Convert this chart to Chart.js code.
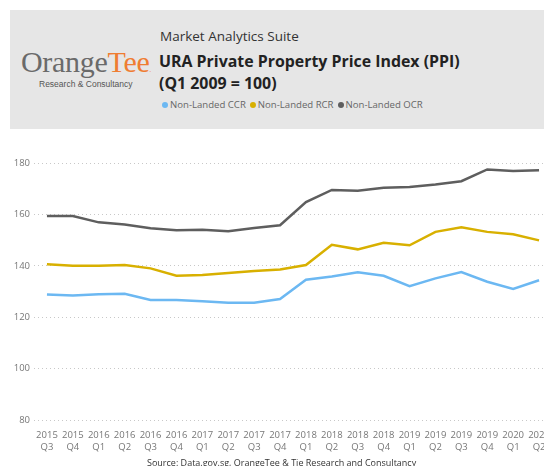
<!DOCTYPE html>
<html>
<head>
<meta charset="utf-8">
<script src="https://cdn.jsdelivr.net/npm/chart.js@4.4.0/dist/chart.umd.min.js"></script>
<style>
  html, body { margin: 0; padding: 0; width: 544px; height: 466px; overflow: hidden; background: #fff; font-family: "Open Sans", sans-serif; }
  #header { position: absolute; left: 10px; top: 10px; width: 540px; height: 119px; background: #e6e6e6; }
  #logo { position: absolute; left: 11px; top: 37px; font-family: "Liberation Serif", serif; font-size: 30px; color: #6a6a6a; line-height: 1; letter-spacing: -0.3px; }
  #logo span { color: #ef7d32; }
  #logo small { font-size: 6px; }
  #logoSub { position: absolute; left: 29px; top: 69px; font-family: "Liberation Sans", Arial, sans-serif; font-size: 8.5px; color: #555; }
  #suite { position: absolute; left: 150px; top: 17px; font-size: 13.5px; color: #333; }
  #title { position: absolute; left: 149px; top: 40px; font-size: 15.9px; font-weight: 700; color: #222; line-height: 22px; }
  #legend { position: absolute; left: 152px; top: 88px; font-size: 9.6px; color: #666; white-space: nowrap; }
  #legend i { display: inline-block; width: 6px; height: 6px; border-radius: 50%; margin-right: 2px; vertical-align: 0px; }
  #legend b { font-weight: 400; margin-right: 4px; }
  #wrap { position: absolute; left: 0; top: 140px; width: 552px; height: 326px; }
  #source { position: absolute; left: 147px; top: 456px; font-size: 9px; color: #333; white-space: nowrap; }
</style>
</head>
<body>
<div id="header">
  <div id="logo">Orange<span>Tee<small>.</small></span></div>
  <div id="logoSub">Research &amp; Consultancy</div>
  <div id="suite">Market Analytics Suite</div>
  <div id="title">URA Private Property Price Index (PPI)<br>(Q1 2009 = 100)</div>
  <div id="legend"></div>
</div>
<div id="wrap"><canvas id="ppiChart"></canvas></div>
<div id="source">Source: Data.gov.sg, OrangeTee &amp; Tie Research and Consultancy</div>
<script>
// Trimestres (dos líneas: año / trimestre)
const anios = ['2015','2015','2016','2016','2016','2016','2017','2017','2017','2017',
               '2018','2018','2018','2018','2019','2019','2019','2019','2020','2020'];
const trimestres = ['Q3','Q4','Q1','Q2','Q3','Q4','Q1','Q2','Q3','Q4',
                    'Q1','Q2','Q3','Q4','Q1','Q2','Q3','Q4','Q1','Q2'];

// Series
const nombres = ['Non-Landed CCR', 'Non-Landed RCR', 'Non-Landed OCR'];
const ccr = [128.8, 128.4, 128.9, 129.1, 126.7, 126.7, 126.2, 125.6, 125.6, 127.1,
             134.6, 135.8, 137.5, 136.1, 132.1, 135.1, 137.6, 133.8, 131.0, 134.4];
const rcr = [140.6, 140.0, 140.0, 140.3, 139.0, 136.1, 136.4, 137.2, 138.0, 138.6,
             140.3, 148.2, 146.4, 149.0, 148.0, 153.2, 155.0, 153.2, 152.3, 149.9];
const ocr = [159.4, 159.4, 156.9, 156.1, 154.6, 153.8, 154.0, 153.4, 154.7, 155.8,
             164.8, 169.5, 169.2, 170.4, 170.7, 171.6, 172.9, 177.5, 176.9, 177.2];
const yTicks = [80, 100, 120, 140, 160, 180];

// Colores
const azul = '#6cb8f2';
const amarillo = '#d8b000';
const gris = '#5e5e5e';
const colores = [azul, amarillo, gris];

// Leyenda en el encabezado
document.getElementById('legend').innerHTML = nombres
  .map((n, i) => `<i style="background:${colores[i]}"></i><b>${n}</b>`).join('');

const etiquetas = anios.map((a, i) => [a, trimestres[i]]);

new Chart(document.getElementById('ppiChart'), {
  type: 'line',
  data: {
    labels: etiquetas,
    datasets: [ccr, rcr, ocr].map((d, i) => ({
      label: nombres[i],
      data: d,
      borderColor: colores[i],
      backgroundColor: colores[i],
      borderWidth: 2.5,
      pointRadius: 0,
      tension: 0,
      fill: false
    }))
  },
  options: {
    responsive: true,
    maintainAspectRatio: false,
    animation: false,
    layout: { padding: { top: 23, left: 0, right: 0, bottom: 0 } },
    plugins: { legend: { display: false }, tooltip: { enabled: false } },
    scales: {
      x: {
        offset: true,
        grid: { display: false, drawTicks: false },
        border: { display: false },
        ticks: { color: '#777', font: { family: 'Open Sans', size: 9.5 }, padding: 10, maxRotation: 0, autoSkip: false },
        afterFit: s => { s.height = 46; s.paddingLeft = 0; s.paddingRight = 0; }
      },
      y: {
        min: 80,
        max: 180,
        afterBuildTicks: s => { s.ticks = yTicks.map(v => ({ value: v })); },
        grid: { color: '#c8c8c8', drawTicks: false, lineWidth: 1 },
        border: { display: false, dash: [1, 3] },
        ticks: { color: '#777', font: { family: 'Open Sans', size: 9.5 }, padding: 4 },
        afterFit: s => { s.width = 34; }
      }
    }
  }
});
</script>
</body>
</html>
